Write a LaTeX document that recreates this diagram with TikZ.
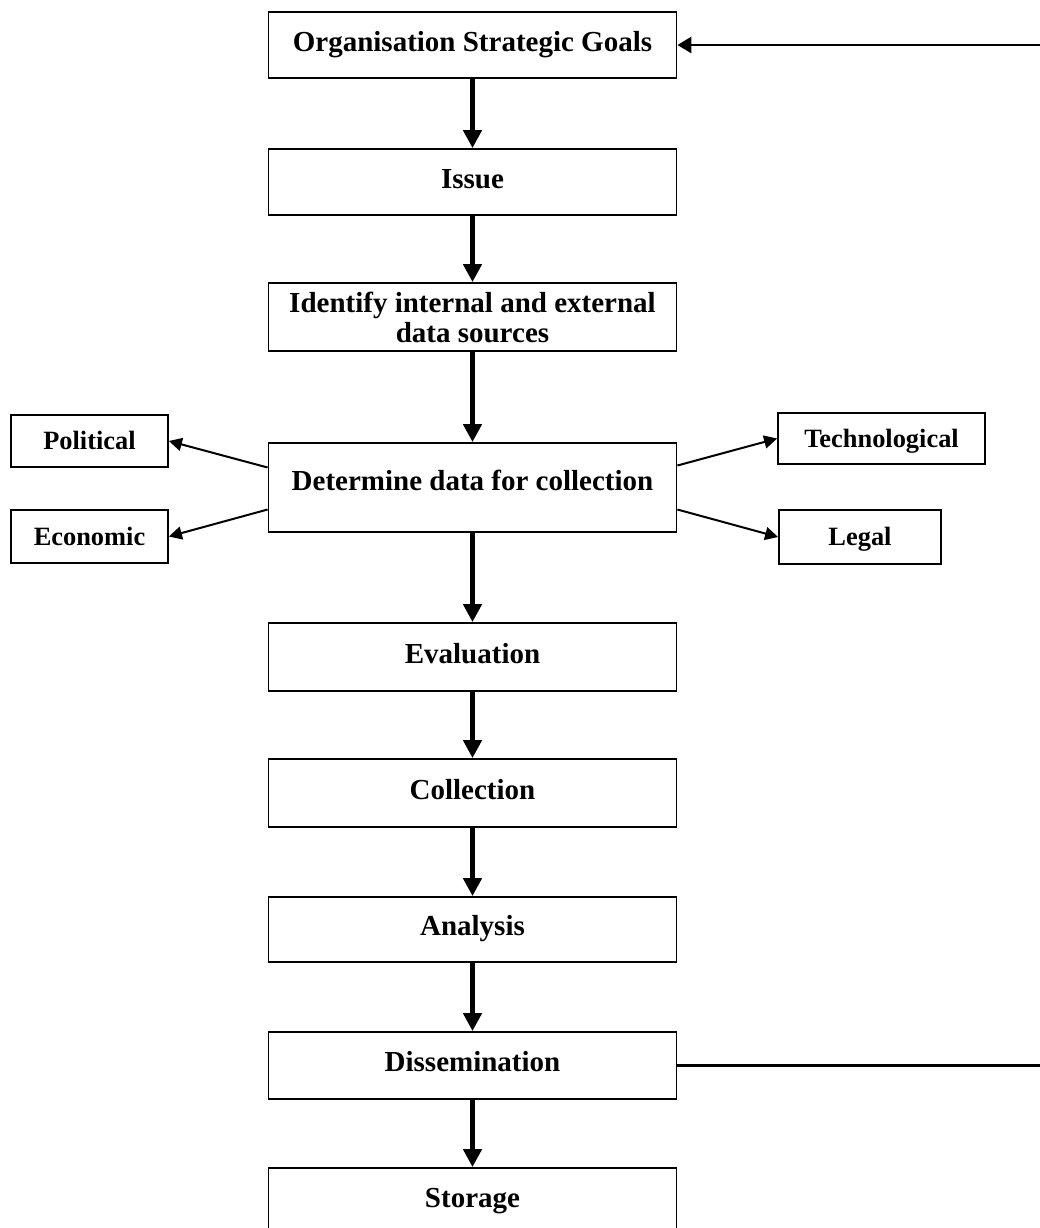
\documentclass[tikz,border=0pt]{standalone}
\usepackage{fontspec}
\setmainfont{Liberation Serif}
\usepackage{xcolor}
\usepackage{tikz}
\usetikzlibrary{calc}
\usetikzlibrary{arrows.meta}
\usetikzlibrary{positioning}
\tikzstyle{stepbox}=[black, draw=black, line width=0.9pt, shape=rectangle, fill=white, minimum width=204pt, inner sep=1pt, align=center, text height=11.6pt, text depth=5.5pt, font=\fontsize{14.5}{15}\selectfont\bfseries]
\tikzstyle{factorbox}=[black, draw=black, line width=0.9pt, shape=rectangle, fill=white, minimum height=26pt, inner sep=1pt, align=center, text height=10.6pt, text depth=1.9pt, font=\fontsize{13.2}{14}\selectfont\bfseries]
\tikzstyle{mainarrow}=[-{Triangle[length=9pt, width=9pt]}, line width=2.6pt, color=black]
\tikzstyle{sidearrow}=[-{Triangle[length=6.5pt, width=6.5pt]}, line width=1pt, color=black]
\tikzstyle{backarrow}=[-{Triangle[length=7pt, width=8pt]}, line width=1.4pt, color=black]

\begin{document}
\begin{tikzpicture}[x=0.5pt, y=-0.5pt]
\useasboundingbox (0,0) rectangle (1040,1228);

\node [stepbox, minimum height=33pt] (goals) at (472.5,45) {Organisation Strategic Goals};
\node [stepbox, minimum height=33pt] (issue) at (472.5,182) {Issue};
\node [stepbox, minimum height=34pt, text height=, text depth=] (sources) at (472.5,317) {Identify internal and external\\data sources};
\node [stepbox, minimum height=44.5pt, text depth=8.7pt] (determine) at (472.5,487.5) {Determine data for collection};
\node [stepbox, minimum height=34pt] (evaluation) at (472.5,657) {Evaluation};
\node [stepbox, minimum height=34pt] (collection) at (472.5,793) {Collection};
\node [stepbox, minimum height=32.5pt] (analysis) at (472.5,929.5) {Analysis};
\node [stepbox, minimum height=33.5pt] (dissemination) at (472.5,1065.5) {Dissemination};
\node [stepbox, minimum height=33pt] (storage) at (472.5,1201) {Storage};

\node [factorbox, minimum width=78.5pt] (political) at (89.5,441) {Political};
\node [factorbox, minimum width=78.5pt, minimum height=26.5pt] (economic) at (89.5,536.5) {Economic};
\node [factorbox, minimum width=103.5pt, minimum height=25.5pt] (technological) at (881.5,438.5) {Technological};
\node [factorbox, minimum width=81pt, minimum height=27pt] (legal) at (860,537) {Legal};

\coordinate (backtop) at (1040,45);
\coordinate (backbottom) at (1040,1065.5);

\draw[mainarrow] (goals) -- (issue);
\draw[mainarrow] (issue) -- (sources);
\draw[mainarrow] (sources) -- (determine);
\draw[mainarrow] (determine) -- (evaluation);
\draw[mainarrow] (evaluation) -- (collection);
\draw[mainarrow] (collection) -- (analysis);
\draw[mainarrow] (analysis) -- (dissemination);
\draw[mainarrow] (dissemination) -- (storage);

\draw[sidearrow] ([yshift=10pt]determine.west) -- (political.east);
\draw[sidearrow] ([yshift=-11pt]determine.west) -- (economic.east);
\draw[sidearrow] ([yshift=11pt]determine.east) -- (technological.west);
\draw[sidearrow] ([yshift=-11pt]determine.east) -- (legal.west);

\draw[line width=1.5pt, color=black] (dissemination.east) -- (backbottom);
\draw[backarrow] (backtop) -- (goals.east);
\end{tikzpicture}
\end{document}
